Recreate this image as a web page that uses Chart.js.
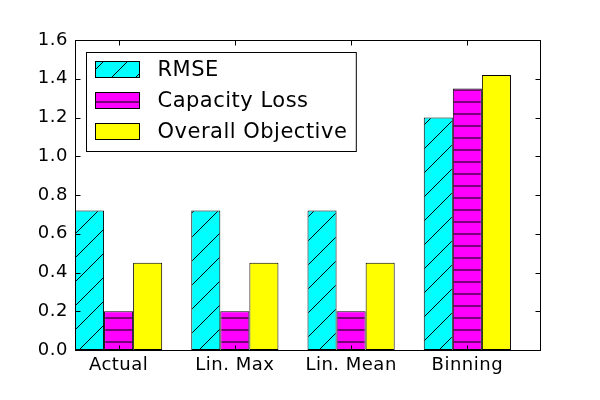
<!DOCTYPE html>
<html>
<head>
<meta charset="utf-8">
<script src="https://cdn.jsdelivr.net/npm/chart.js@4"></script>
<style>
  html, body { margin: 0; padding: 0; background: #fff; }
  canvas { display: block; }
</style>
</head>
<body>
<canvas id="chart" width="600" height="400"></canvas>
<script>
const categories = ['Actual', 'Lin. Max', 'Lin. Mean', 'Binning'];
const seriesNames = ['RMSE', 'Capacity Loss', 'Overall Objective'];
const rmse = [0.72, 0.72, 0.72, 1.20];
const capacityLoss = [0.20, 0.20, 0.20, 1.35];
const overallObjective = [0.45, 0.45, 0.45, 1.42];
const yTicks = [0, 0.2, 0.4, 0.6, 0.8, 1.0, 1.2, 1.4, 1.6];

const FONT = 'DejaVu Sans';

// hatch '/' on cyan, 24px tile (matplotlib NorthEast hatch)
function diagHatch() {
    const c = document.createElement('canvas');
    c.width = 24; c.height = 24;
    const g = c.getContext('2d');
    g.fillStyle = '#00ffff';
    g.fillRect(0, 0, 24, 24);
    g.strokeStyle = '#000';
    g.lineWidth = 1;
    [-3, 21, 45].forEach(k => {
        g.beginPath();
        g.moveTo(-2, k + 2);
        g.lineTo(k + 2, -2);
        g.stroke();
    });
    return g.createPattern(c, 'repeat');
}

// hatch '-' on magenta, 12px tile
function horizHatch() {
    const c = document.createElement('canvas');
    c.width = 12; c.height = 12;
    const g = c.getContext('2d');
    g.fillStyle = '#ff00ff';
    g.fillRect(0, 0, 12, 12);
    g.fillStyle = '#7a007a';
    g.fillRect(0, 5, 12, 2);
    return g.createPattern(c, 'repeat');
}

const fills = [diagHatch(), horizHatch(), '#ffff00'];
const seriesData = [rmse, capacityLoss, overallObjective];

// matplotlib's hinted text runs a bit wider than the browser's
const spacingPlugin = {
    id: 'spacing',
    beforeDraw(chart) { chart.ctx.letterSpacing = '0.5px'; }
};

// frame, inward ticks and a boxed legend, drawn like the original
const framePlugin = {
    id: 'frame',
    afterDraw(chart) {
        const { ctx, chartArea: a, scales } = chart;
        const L = Math.round(a.left) + 0.5, R = Math.round(a.right) + 0.5;
        const T = Math.round(a.top) + 0.5, B = Math.round(a.bottom) + 0.5;
        ctx.save();
        ctx.strokeStyle = '#000';
        ctx.lineWidth = 1;
        ctx.beginPath();
        yTicks.forEach(v => {
            const y = Math.round(scales.y.getPixelForValue(v)) + 0.5;
            ctx.moveTo(L, y); ctx.lineTo(L + 5, y);
            ctx.moveTo(R, y); ctx.lineTo(R - 5, y);
        });
        categories.forEach((c, i) => {
            const x = Math.round(scales.x.getPixelForValue(i)) + 0.5;
            ctx.moveTo(x, B); ctx.lineTo(x, B - 5);
            ctx.moveTo(x, T); ctx.lineTo(x, T + 5);
        });
        ctx.stroke();
        ctx.strokeRect(L, T, R - L, B - T);

        // legend
        ctx.font = '21px "' + FONT + '"';
        ctx.letterSpacing = '0.5px';
        const textW = Math.max(...seriesNames.map(s => ctx.measureText(s).width));
        const bx = L + 11, by = T + 12;
        const bw = 71 + textW + 9, bh = 99;
        ctx.fillStyle = '#fff';
        ctx.fillRect(bx, by, bw, bh);
        ctx.strokeRect(bx, by, bw, bh);
        seriesNames.forEach((name, i) => {
            const cy = by + 17 + i * 31;
            ctx.fillStyle = fills[i];
            ctx.fillRect(bx + 9, cy - 8, 44, 16);
            ctx.strokeRect(bx + 9, cy - 8, 44, 16);
            ctx.fillStyle = '#000';
            ctx.textBaseline = 'middle';
            ctx.textAlign = 'left';
            ctx.fillText(name, bx + 71, cy + 1);
        });
        ctx.restore();
    }
};

new Chart(document.getElementById('chart'), {
    type: 'bar',
    data: {
        datasets: seriesNames.map((name, s) => ({
            label: name,
            data: seriesData[s].map((v, i) => ({ x: i, y: v })),
            backgroundColor: fills[s],
            borderColor: '#000',
            borderWidth: 1,
            borderSkipped: false,
            categoryPercentage: 0.75,
            barPercentage: 1.0
        }))
    },
    options: {
        responsive: false,
        animation: false,
        devicePixelRatio: 1,
        layout: { padding: { left: 0, right: 60, top: 40, bottom: 0 } },
        plugins: {
            legend: { display: false },
            tooltip: { enabled: false }
        },
        scales: {
            x: {
                type: 'linear',
                offset: false,
                min: -0.375,
                max: 3.625,
                afterBuildTicks: scale => { scale.ticks = categories.map((c, i) => ({ value: i })); },
                afterFit: scale => { scale.height = 50; },
                grid: { display: false, drawTicks: false },
                border: { display: false },
                ticks: {
                    callback: v => categories[v],
                    color: '#000',
                    padding: 5,
                    maxRotation: 0,
                    autoSkip: false,
                    font: { family: FONT, size: 18 }
                }
            },
            y: {
                min: 0,
                max: 1.6,
                afterBuildTicks: scale => { scale.ticks = yTicks.map(v => ({ value: v })); },
                afterFit: scale => { scale.width = 75; },
                grid: { display: false, drawTicks: false },
                border: { display: false },
                ticks: {
                    callback: v => v.toFixed(1),
                    color: '#000',
                    padding: 7,
                    font: { family: FONT, size: 18 }
                }
            }
        }
    },
    plugins: [spacingPlugin, framePlugin]
});
</script>
</body>
</html>
